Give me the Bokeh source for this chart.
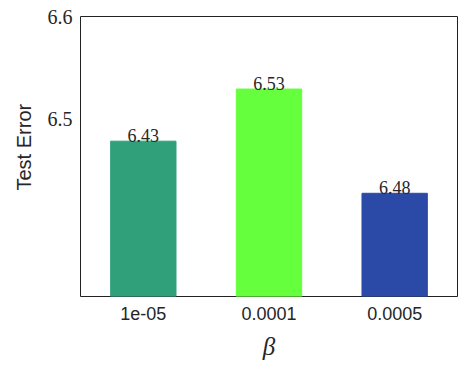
from bokeh.plotting import figure
from bokeh.models import ColumnDataSource, FixedTicker, Range1d, LabelSet, Title
from bokeh.embed import file_html
from bokeh.resources import INLINE

betas = ["1e-05", "0.0001", "0.0005"]
errors = [6.478, 6.529, 6.427]
labels = ["6.43", "6.53", "6.48"]
colors = ["#2fa079", "#66ff3d", "#2b4aa8"]
y_ticks = [6.5, 6.6]

src = ColumnDataSource(dict(x=list(range(len(betas))), top=errors, lab=labels, color=colors))

p = figure(width=458, height=362, output_backend="svg", toolbar_location=None,
           x_range=Range1d(-0.5, 2.5), y_range=Range1d(6.326, 6.6),
           min_border_left=80, min_border_right=1, min_border_top=16, min_border_bottom=66)

p.vbar(x="x", top="top", bottom=6.326, width=0.52, color="color", source=src)

p.add_layout(LabelSet(x="x", y="top", text="lab", source=src, text_align="center",
                      text_baseline="alphabetic", text_font="Liberation Sans",
                      text_font_size="18px", text_color="#262626", y_offset=-1))

p.xaxis.ticker = FixedTicker(ticks=[0, 1, 2])
p.xaxis.major_label_overrides = {i: b for i, b in enumerate(betas)}
p.yaxis.ticker = FixedTicker(ticks=y_ticks)

for ax in (p.xaxis, p.yaxis):
    ax.axis_line_color = None
    ax.major_tick_line_color = None
    ax.minor_tick_line_color = None
    ax.major_tick_out = 0
    ax.major_tick_in = 0
    ax.minor_tick_out = 0
    ax.major_label_text_color = "#262626"
    ax.axis_label_text_color = "#262626"
    ax.axis_label_text_font_style = "normal"

p.xaxis.major_label_text_font = "Liberation Sans"
p.xaxis.major_label_text_font_size = "18px"
p.xaxis.major_label_standoff = 10
p.xaxis.axis_label = "β"
p.xaxis.axis_label_text_font = "Liberation Serif"
p.xaxis.axis_label_text_font_style = "italic"
p.xaxis.axis_label_text_font_size = "25px"
p.xaxis.axis_label_standoff = 10

p.yaxis.major_label_text_font = "Liberation Serif"
p.yaxis.major_label_text_font_size = "20px"
p.yaxis.major_label_standoff = 8

p.add_layout(Title(text="Test Error", align="left", offset=106,
                   text_font="Liberation Sans", text_font_size="20px",
                   text_font_style="normal", text_color="#262626", standoff=19), "left")

p.xgrid.grid_line_color = None
p.ygrid.grid_line_color = None
p.outline_line_color = "#222222"
p.outline_line_width = 1
p.background_fill_color = "white"
p.border_fill_color = "white"

open("out.html", "w").write(file_html(p, INLINE))
